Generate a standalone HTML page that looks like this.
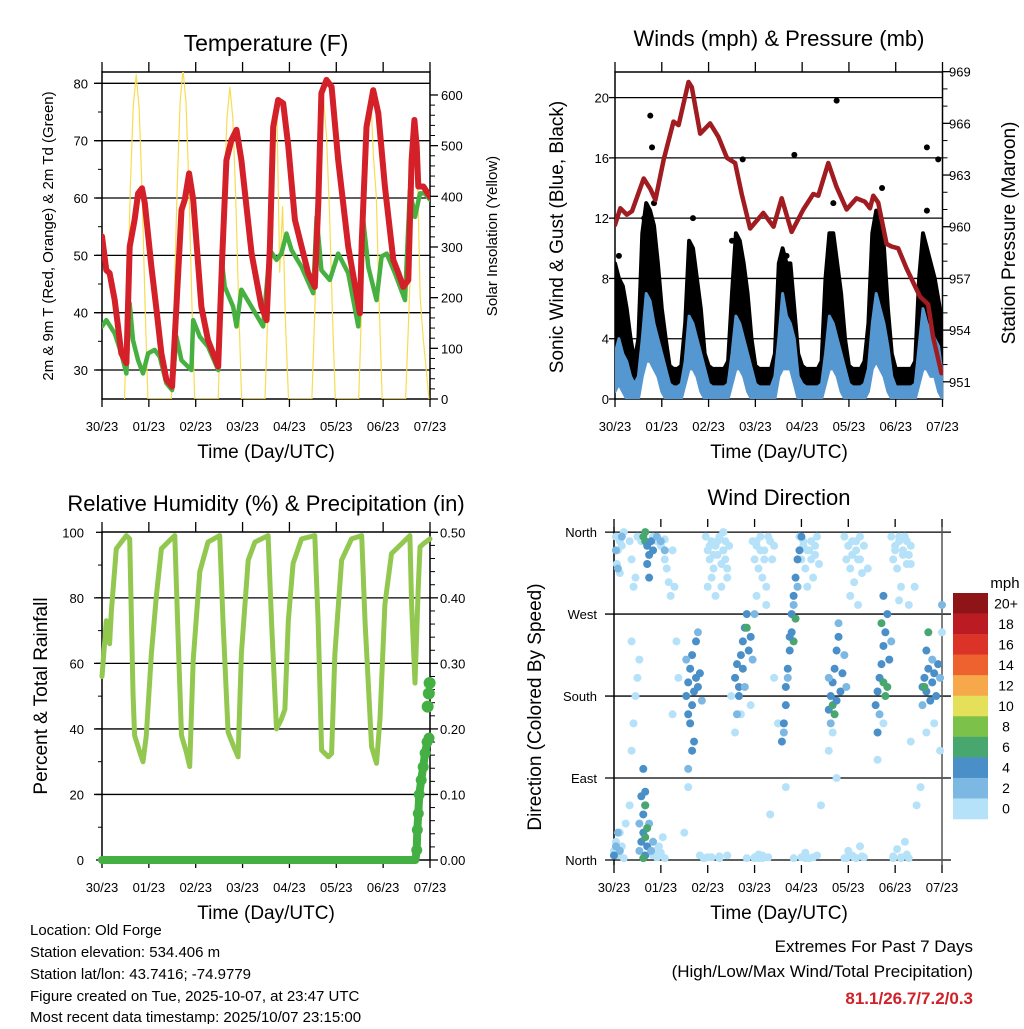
<!DOCTYPE html>
<html><head><meta charset="utf-8"><style>
html,body{margin:0;padding:0;background:#fff;}
svg text{font-family:"Liberation Sans",Arial,sans-serif;fill:#000;}
</style></head><body>
<svg id="fig" xmlns="http://www.w3.org/2000/svg" width="1024" height="1024" viewBox="0 0 1024 1024">
<rect x="0" y="0" width="1024" height="1024" fill="#fff"/>
<defs>
<clipPath id="c1"><rect x="102" y="72" width="328" height="327"/></clipPath>
<clipPath id="c2"><rect x="615" y="72" width="328" height="327"/></clipPath>
<clipPath id="c3"><rect x="90" y="520" width="352" height="352"/></clipPath>
<clipPath id="c4"><rect x="605" y="527" width="345" height="338"/></clipPath>
</defs>
<g id="layer"></g>
<text x="266" y="51" font-size="23" text-anchor="middle">Temperature (F)</text>
<text x="779" y="46" font-size="22" text-anchor="middle">Winds (mph) &amp; Pressure (mb)</text>
<text x="266" y="511" font-size="22" text-anchor="middle">Relative Humidity (%) &amp; Precipitation (in)</text>
<text x="779" y="505" font-size="22" text-anchor="middle">Wind Direction</text>
<text transform="translate(53,236) rotate(-90)" font-size="15" text-anchor="middle">2m &amp; 9m T (Red, Orange) &amp; 2m Td (Green)</text>
<text transform="translate(497,236) rotate(-90)" font-size="15" text-anchor="middle">Solar Insolation (Yellow)</text>
<text transform="translate(563,237) rotate(-90)" font-size="19" text-anchor="middle">Sonic Wind &amp; Gust (Blue, Black)</text>
<text transform="translate(1015,233) rotate(-90)" font-size="19" text-anchor="middle">Station Pressure (Maroon)</text>
<text transform="translate(47,696) rotate(-90)" font-size="19" text-anchor="middle">Percent &amp; Total Rainfall</text>
<text transform="translate(541,707) rotate(-90)" font-size="19" text-anchor="middle">Direction (Colored By Speed)</text>
<text x="266" y="458" font-size="19" text-anchor="middle">Time (Day/UTC)</text>
<text x="779" y="458" font-size="19" text-anchor="middle">Time (Day/UTC)</text>
<text x="266" y="919" font-size="19" text-anchor="middle">Time (Day/UTC)</text>
<text x="779" y="919" font-size="19" text-anchor="middle">Time (Day/UTC)</text>
<g font-size="15">
<text x="30" y="935">Location: Old Forge</text>
<text x="30" y="957">Station elevation: 534.406 m</text>
<text x="30" y="979">Station lat/lon: 43.7416; -74.9779</text>
<text x="30" y="1001">Figure created on Tue, 2025-10-07, at 23:47 UTC</text>
<text x="30" y="1022">Most recent data timestamp: 2025/10/07 23:15:00</text>
</g>
<g font-size="17" text-anchor="end">
<text x="973" y="952">Extremes For Past 7 Days</text>
<text x="973" y="977">(High/Low/Max Wind/Total Precipitation)</text>
<text x="973" y="1004" font-weight="bold" style="fill:#d02028">81.1/26.7/7.2/0.3</text>
</g>
<text x="1005" y="588" font-size="15" text-anchor="middle">mph</text>
</svg>
<script>
// ---------- data ----------
const dayLabels = ["30/23","01/23","02/23","03/23","04/23","05/23","06/23","07/23"];
const tempTicks = [30,40,50,60,70,80];
const solarTicks = [0,100,200,300,400,500,600];
const windTicks = [0,4,8,12,16,20];
const pressTicks = [951,954,957,960,963,966,969];
const rhTicks = [0,20,40,60,80,100];
const rainTicks = ["0.00","0.10","0.20","0.30","0.40","0.50"];
const dirLabels = ["North","East","South","West","North"];
const dirTicks = [0,90,180,270,360];

const tempHours = [0,2.2,3.9,6.5,8.2,9.9,12.5,14.2,16.7,18.5,20.5,21.9,25.3,27.9,30.4,33,35.9,38.1,40.7,42.4,44.6,46.7,50.9,54.3,59.5,61.5,63.7,66.3,68.9,71.4,76.6,81.7,84.3,86,87.7,90.2,92.8,95.4,98.8,105.6,109,110.8,112.4,115,117.6,121,126.1,132.1,133,135.5,138.9,141.5,144.9,149.2,151.8,154.3,156.9,158.6,160,161.2,162,164.6,168];
const tempVals = [53.3,47.4,46.9,42.2,37.6,32.9,31.2,51.5,56.2,60.8,61.7,59.1,48.0,40.5,32.9,28.3,27.1,41.0,57.9,59.7,64.3,59.7,41.0,35.2,30.6,49.2,66.6,70.1,71.9,66.6,50.3,41.0,38.7,51.5,72.4,77.1,76.5,69.0,56.2,46.9,44.5,59.1,78.3,80.6,79.4,66.6,51.5,39.9,52.1,72.4,78.8,74.8,62.0,49.2,46.9,44.5,45.7,66.6,73.6,69.0,62.0,62.0,60.2];
const dewHours = [0,2.2,6.5,9.9,12.5,14.2,15.9,18.5,21,23.6,27,29.6,33,35.9,38.1,40.7,45.8,46.7,50.1,54.3,59.5,61.5,62.9,67.2,68.9,71.4,76.6,82.5,86,89.4,91.9,94.5,97.1,102.2,108.2,109.9,112.4,116.7,121,126.1,131.3,133.8,136.4,140.6,143.2,145.8,150,155.2,157.7,160.3,162.9,165.4,168];
const dewVals = [37.6,38.7,36.4,32.9,29.4,41.6,35.2,31.7,29.4,32.9,33.5,32.3,27.7,26.5,35.8,31.7,30,38.7,35.8,34.1,30,48.6,44.5,41.0,37.6,44.0,41.0,37.6,50.9,49.2,50.3,53.8,50.9,48.0,43.4,56.7,47.4,45.7,50.3,46.9,37.6,56.2,48.0,42.2,49.8,50.3,46.9,42.2,61.4,56.7,60.8,60.8,59.7];
const solarHours = [11.5,13,14.5,16,17.5,19,20.5,22,23.5, 35.5,37,38.5,40,41.5,43,44.5,46,47.5, 59.5,61,62.5,64,65.5,67,68.5,70,71.5, 83.5,85,86.5,88,89.5,91,92.5,94,95.5, 107.5,109,110.5,112,113.5,115,116.5,118,119.5, 131.5,133,134.5,136,137.5,139,140.5,142,143.5, 155.5,157,158.5,160,161.5,163,164.5,166,167.5];
const solarVals = [0,190,415,575,640,575,415,190,0, 0,195,420,585,650,585,420,195,0, 0,185,400,555,615,555,400,185,0, 0,180,390,560,590,250,380,150,0, 0,175,380,530,590,520,370,170,0, 0,185,400,550,610,480,400,185,0, 0,150,320,520,460,200,120,60,0];

const windStepHours = 2;
const gustHi = [9,8,7.5,6,4,2.5,4,11,13,12.5,11.5,9,6,4,2.2,2,2,2.2,5,10.5,10,8,6,3,2.2,2,2,2,2,2.5,7,11,10.5,9,7,4,2.2,2,2,2,2,3,9,10,9,9,6,3,2.2,2,2,2,2,2.5,8,11,11,9,7,4,2.2,2,2,2,2.5,5,11,12.5,12,10,6,3,2,2,2,2,2,2.5,8,11,10,9,8,6.5,5];
const gustLo = [3,2.5,2,1.5,1,0.8,1.5,5,6,6,5,4,2.5,1.5,0.8,0.8,0.8,0.8,2.5,4.5,4.5,3.5,2.5,1.5,0.8,0.5,0.5,0.5,0.5,0.8,3,5,5,4,3,1.5,0.8,0.5,0.5,0.5,0.5,1,4,6,5,4.5,3,1,0.8,0.5,0.5,0.5,0.5,0.8,3,5,5,4,3,1.5,0.8,0.5,0.5,0.5,0.8,2,5,6,5.5,4.5,3,1,0.5,0.5,0.5,0.5,0.5,0.8,3,5,4.5,4,3.5,3,1.5];
const windHi = [3,4,3,2.5,1.5,1,1.5,4,7,6.5,5,4,3,2,1,0.8,0.8,1,2.5,5.5,5,4,3,2,1,0.8,0.8,0.8,0.8,1,3,5.5,5,4,3,2,1,0.8,0.8,0.8,0.8,1.5,4,7,5.5,5,4,1.5,1,0.8,0.8,0.8,0.8,1,3,5.5,5,4,3,2,1,0.8,0.8,0.8,1,2,5,7,6,5,3.5,1.5,0.8,0.8,0.8,0.8,0.8,1,3.5,6,5,4.5,4,3.5,1.5];
const windLo = [0.5,1,0.5,0,0,0,0,1.5,2.5,2.5,2,1.5,0.5,0,0,0,0,0,1,2,2,1.5,0.5,0,0,0,0,0,0,0,1,2,2,1.5,0.5,0,0,0,0,0,0,0,1.5,2,2,2,1,0,0,0,0,0,0,0,1,2,2,1.5,0.5,0,0,0,0,0,0,0.5,2,2.5,2,1.5,0.5,0,0,0,0,0,0,0,1,2,2,1.5,1.5,0.5,0];
const gustPeakHours = [18.1,19,113.7,92,65.5,160,165.8,2,15,20,60,88,40,112,137,160];
const gustPeakVals = [18.8,16.7,19.8,16.2,15.9,16.7,15.9,9.5,12,13,10.5,9.5,12,13,14,12.5];
const pressHours = [0,2.7,6.1,8.7,14.7,18.1,20.7,25,30,32.6,37.7,39.4,43.7,48.8,53.1,57.4,61.6,65,69.3,76.1,81.3,85.5,90.6,96.6,101.7,104.3,109.4,113.7,118.8,123.9,128.2,130.8,132.5,135,139.3,141.9,145.3,149.5,156.4,160.6,163.2,167.5];
const pressVals = [960.1,961.07,960.7,960.9,962.8,962.2,961.55,963.9,966.1,965.9,968.4,968.1,965.4,966.0,965.2,964.0,963.7,961.9,959.9,960.8,960.0,961.65,959.7,961.0,961.9,961.8,963.7,962.3,961.0,961.65,961.45,961.07,961.8,961.4,959.0,958.85,958.75,957.6,955.95,955.5,953.6,951.5];

const rhHours = [0,2.2,3.9,4.8,7.3,9.9,12.5,14.2,15.9,16.7,19.3,21,22.7,25.3,27.9,30.4,33.8,37.3,39,40.7,43.2,44.9,46.7,50.1,54.3,60.3,62,64.6,67.2,69.7,71.4,74.9,78.3,85.1,86.8,89.4,91.9,93.7,95.4,97.9,102.2,109,110.7,112.5,115.9,117.6,119.3,122.7,127.8,133,134.7,138.1,140.6,142.4,144.9,148.3,157.7,158.6,160.3,162,162.9,164.6,168];
const rhVals = [56,73,66,76,95,97,99,98,51,38,33,30,38,63,81,95,97,99,68,38,33,28.5,61,88,97,99,73,39,35,31.5,63,91.5,97,99,73,40,43,46,73,90.5,98,99,73,33.5,31.5,32.5,63,91.5,98,99,73,34.5,29.5,43,78,93.5,99,78,54,83.5,95.5,96.5,98];
const rainHours = [0,160.5,161.2,161.5,162,162.5,163.5,164.5,165.5,166.5,167.5];
const rainVals = [0,0,0.015,0.046,0.071,0.10,0.122,0.142,0.163,0.18,0.186];
const rainUpperHours = [166.8,167.4,167.8];
const rainUpperVals = [0.234,0.254,0.27];

const calmHours = [1,2,3,1.5,4,5,3,8,9,10,11,12,14,20,22,24,26,27,28,29,30,31,26,47,48,49,50,51,52,53,54,55,56,57,58,59,48,52,55,50,57,56,71,72,73,74,75,76,77,78,80,81,82,73,78,95,96,97,98,100,101,102,103,104,99,105,118,119,120,121,122,123,124,125,126,127,128,130,121,125,142,143,144,145,146,147,148,149,150,151,152,146,151,154,
0,1,2,3,4,5,6,8,9,10,11,12,9,13,20,21,22,23,24,25,26,30,32,33,36,38,44,46,50,54,58,60,62,65,68,70,72,74,76,79,80,82,84,88,92,96,98,100,104,106,110,112,114,118,120,122,124,126,128,135,138,143,145,147,149,150,152,155,157,160,164,167,168,
49,51,53,56,58,73,75,77,79,97,99,101,103,120,122,124,126,144,146,148,150,152,46,48,54,72,74,76,98,102,119,123,127,143,147,151];
const calmDeg = [355,340,350,325,345,360,315,350,330,300,310,355,350,355,350,345,330,320,305,290,340,300,352,355,340,330,350,320,345,335,355,325,340,350,310,345,300,290,300,310,330,360,350,330,345,320,355,310,340,300,350,330,345,290,280,355,330,345,320,340,350,310,335,355,300,325,355,330,345,320,350,305,340,330,355,315,345,320,290,280,355,330,345,320,350,300,340,355,325,335,345,285,280,300,
10,20,5,30,15,2,40,60,120,150,180,200,240,220,5,10,3,15,8,25,2,160,240,200,30,80,5,2,3,2,5,180,140,160,2,170,2,6,2,3,50,200,150,80,2,3,8,2,5,60,120,140,90,2,10,5,2,15,3,110,150,4,12,2,20,6,130,60,80,140,150,120,250,
345,335,350,340,320,350,340,330,355,350,340,330,345,345,335,350,330,340,355,335,350,325,2,3,4,3,2,5,2,3,2,3,4,2,3,2];
const dirHours = [1,2,3,1,2,4,0,13,14,15,15,16,14,16,17,18,15,16,13,19,20,15,16,17,16,15,16,17,18,17,19,20,22,24,26,18,16,37,38,39,40,41,42,38,40,42,43,44,39,41,43,37,45,40,38,62,63,64,65,66,67,68,66,69,70,67,64,68,71,63,72,86,87,88,88,89,90,91,91,92,93,94,95,96,89,92,94,87,93,92,90,110,111,112,113,114,115,116,117,118,112,113,110,115,114,119,111,134,135,136,137,138,139,140,137,138,139,141,140,136,142,135,138,158,159,160,161,162,163,164,165,166,167,160,161,159,158,163,168];
const dirDeg = [15,30,10,340,320,355,5,10,20,30,50,60,70,5,15,40,100,75,40,10,20,2,25,35,60,355,350,345,335,325,350,340,355,350,340,310,360,180,195,210,170,185,200,160,225,240,190,205,150,130,250,220,175,120,100,200,215,190,225,240,255,270,210,230,245,190,180,255,220,160,270,130,150,170,190,210,230,250,270,290,310,330,340,355,200,280,300,140,265,240,245,165,180,195,210,230,245,185,205,225,170,160,200,260,175,190,150,170,185,200,215,235,250,270,260,195,180,220,190,160,240,140,290,190,200,185,210,175,195,205,180,215,200,230,250,190,170,220,280];
const dirSpeed = [3,3,3,3,3,3,5,3,5,5,5,5,5,5,5,3,5,5,3,3,3,7,7,7,7,7,7,5,5,5,5,5,3,3,3,5,7,5,5,5,5,5,5,5,5,5,5,5,5,5,3,3,3,5,3,5,5,5,5,5,5,5,5,5,5,3,5,7,3,3,3,5,5,5,5,5,5,5,5,5,5,5,5,5,3,3,3,3,7,7,5,5,5,5,5,5,5,5,5,3,7,7,3,3,5,3,3,5,5,5,5,5,5,5,7,7,7,5,7,3,3,5,5,5,5,5,5,5,5,5,5,5,3,5,7,7,3,3,3];
const speedBins = ["20+","18","16","14","12","10","8","6","4","2","0"];
const speedColors = ["#8e1418","#bb1c24","#dc3328","#ee6230","#f6a84a","#e5e05a","#7cc24a","#48a76e","#4a8fc8","#7db8e3","#b5e2f8"];

// ---------- helpers ----------
const NS = "http://www.w3.org/2000/svg";
const layer = document.getElementById('layer');
function mk(tag, attrs, parent){ const e=document.createElementNS(NS,tag); for(const k in attrs) e.setAttribute(k,attrs[k]); (parent||layer).appendChild(e); return e; }
function grp(name, clip){ const g=mk('g',{});   if(clip) g.setAttribute('clip-path','url(#'+clip+')'); return g; }
const P1={x0:102,x1:430,y0:72,y1:399}, P2={x0:615,x1:942.5,y0:72,y1:399}, P3={x0:102,x1:430,y0:532,y1:860}, P4={x0:614,x1:942,y0:532,y1:860};
function xs(P,h){ return P.x0 + h/168*(P.x1-P.x0); }
const yT=t=>370-(t-30)*5.733, yS=v=>399-v*0.5067, yW=v=>399-v*15.07, yP=p=>381.8-(p-951)*17.23;
const yRH=r=>860-r*3.277, yRain=v=>860-v*655.4, yDir=d=>860-d*0.9108;
function pts(P,hs,vs,fy){ return hs.map((h,i)=>xs(P,h).toFixed(1)+','+fy(vs[i]).toFixed(1)).join(' '); }

function frame(P,name,grids,fy,gx0,gx1){
  const g=grp(name+'-axes');
  grids.forEach(v=>{ const y=fy(v); const l=mk('line',{x1:gx0,x2:gx1,y1:y,y2:y,stroke:'#000','stroke-width':1.3},g);   });
  mk('rect',{x:P.x0,y:P.y0,width:P.x1-P.x0,height:P.y1-P.y0,fill:'none',stroke:'#000','stroke-width':1.5},g);
  for(let d=0; d<=7; d++){ const x=xs(P,d*24);
    mk('line',{x1:x,x2:x,y1:P.y0,y2:P.y0-10,stroke:'#000','stroke-width':1.3},g);
    mk('line',{x1:x,x2:x,y1:P.y1,y2:P.y1+8,stroke:'#000','stroke-width':1.3},g);
    const t=mk('text',{x:x,y:P.y1+32,'font-size':13,'text-anchor':'middle'},g); t.textContent=dayLabels[d];
     
  }
  return g;
}
function leftLabels(g,P,vals,fy,labels,xr){ vals.forEach((v,i)=>{ const y=fy(v); mk('line',{x1:P.x0,x2:P.x0-6,y1:y,y2:y,stroke:'#000','stroke-width':1.3},g); const t=mk('text',{x:xr,y:y+5,'font-size':13,'text-anchor':'end'},g); t.textContent=labels?labels[i]:v;   }); }
function rightLabels(g,P,vals,fy,labels,xl){ vals.forEach((v,i)=>{ const y=fy(v); mk('line',{x1:P.x1,x2:P.x1+8,y1:y,y2:y,stroke:'#000','stroke-width':1.3},g); const t=mk('text',{x:xl,y:y+5,'font-size':13,'text-anchor':'start'},g); t.textContent=labels?labels[i]:v;   }); }

// ---------- Panel 1 ----------
(function(){
  const g=frame(P1,'temperature',tempTicks.concat([80]),yT,94,430);
  leftLabels(g,P1,tempTicks,yT,null,88);
  rightLabels(g,P1,solarTicks,yS,null,441);
  for(let v=20; v<620; v+=20){ if(v%100){ const y=yS(v); mk('line',{x1:P1.x1,x2:P1.x1+5,y1:y,y2:y,stroke:'#000','stroke-width':1},g);} }
  for(let t=35; t<=80; t+=10){ const y=yT(t); mk('line',{x1:P1.x0,x2:P1.x0-4,y1:y,y2:y,stroke:'#000','stroke-width':1},g); }
  const d=grp('temperature-data','c1');
  const s=mk('polyline',{points:pts(P1,solarHours,solarVals,yS),fill:'none',stroke:'#f8dc50','stroke-width':1.2,'stroke-linejoin':'round'},d);
   
  const dw=mk('polyline',{points:pts(P1,dewHours,dewVals,yT),fill:'none',stroke:'#46b040','stroke-width':4.5,'stroke-linejoin':'round','stroke-linecap':'round'},d);
   
  const tl=mk('polyline',{points:pts(P1,tempHours,tempVals,yT),fill:'none',stroke:'#d42028','stroke-width':6,'stroke-linejoin':'round','stroke-linecap':'round'},d);
   
})();

// ---------- Panel 2 ----------
(function(){
  const g=frame(P2,'winds',[4,8,12,16,20],yW,615,942);
  leftLabels(g,P2,windTicks,yW,null,609);
  rightLabels(g,P2,pressTicks,yP,null,949);
  for(let p=952; p<969; p+=1){ if((p-951)%3){ const y=yP(p); mk('line',{x1:P2.x1,x2:P2.x1+5,y1:y,y2:y,stroke:'#000','stroke-width':1},g);} }
  const d=grp('winds-data','c2');
  const n=Math.min(gustHi.length,gustLo.length);
  let top=[],bot=[];
  for(let i=0;i<n;i++){ const x=xs(P2,i*windStepHours); top.push(x.toFixed(1)+','+yW(gustHi[i]).toFixed(1)); bot.unshift(x.toFixed(1)+','+yW(gustLo[i]).toFixed(1)); }
  const gb=mk('polygon',{points:top.concat(bot).join(' '),fill:'#000',stroke:'#000','stroke-width':4,'stroke-linejoin':'round'},d);
   
  gustPeakHours.forEach((h,i)=>{ const c=mk('circle',{cx:xs(P2,h),cy:yW(gustPeakVals[i]),r:3,fill:'#000'},d);   });
  const m=Math.min(windHi.length,windLo.length); top=[];bot=[];
  for(let i=0;i<m;i++){ const x=xs(P2,i*windStepHours); top.push(x.toFixed(1)+','+yW(windHi[i]).toFixed(1)); bot.unshift(x.toFixed(1)+','+yW(windLo[i]).toFixed(1)); }
  const wb=mk('polygon',{points:top.concat(bot).join(' '),fill:'#5597d0',stroke:'#5597d0','stroke-width':3,'stroke-linejoin':'round'},d);
   
  const pl=mk('polyline',{points:pts(P2,pressHours,pressVals,yP),fill:'none',stroke:'#a01c20','stroke-width':4.5,'stroke-linejoin':'round','stroke-linecap':'round'},d);
   
})();

// ---------- Panel 3 ----------
(function(){
  const g=frame(P3,'humidity',[20,40,60,80],yRH,94,430);
  leftLabels(g,P3,rhTicks,yRH,null,84);
  rightLabels(g,P3,rainTicks.map(Number),yRain,rainTicks,440);
  for(let v=0.02; v<0.5; v+=0.02){ if(Math.round(v*100)%10){ const y=yRain(v); mk('line',{x1:P3.x1,x2:P3.x1+5,y1:y,y2:y,stroke:'#000','stroke-width':1},g);} }
  for(let r=10;r<100;r+=20){ const y=yRH(r); mk('line',{x1:P3.x0,x2:P3.x0-4,y1:y,y2:y,stroke:'#000','stroke-width':1},g); }
  const d=grp('humidity-data','c3');
  const rl=mk('polyline',{points:pts(P3,rhHours,rhVals,yRH),fill:'none',stroke:'#92c850','stroke-width':5,'stroke-linejoin':'round','stroke-linecap':'round'},d);
   
  const pl=mk('polyline',{points:pts(P3,rainHours,rainVals,yRain),fill:'none',stroke:'#44b044','stroke-width':8,'stroke-linejoin':'round','stroke-linecap':'round'},d);
   
  rainHours.forEach((h,i)=>{ if(rainVals[i]>0){ const c=mk('circle',{cx:xs(P3,h),cy:yRain(rainVals[i]),r:5.5,fill:'#44b044'},d);   } });
  rainUpperHours.forEach((h,i)=>{ const c=mk('circle',{cx:xs(P3,h),cy:yRain(rainUpperVals[i]),r:6,fill:'#44b044'},d);   });
})();

// ---------- Panel 4 ----------
(function(){
  const g=grp('direction-axes');
  dirTicks.forEach((v,i)=>{ const y=yDir(v); mk('line',{x1:605,x2:951,y1:y,y2:y,stroke:'#000','stroke-width':1.3},g);
    const t=mk('text',{x:597,y:y+5,'font-size':13,'text-anchor':'end'},g); t.textContent=dirLabels[i];   });
  mk('line',{x1:P4.x0,x2:P4.x0,y1:527,y2:865,stroke:'#000','stroke-width':1.5},g);
  mk('line',{x1:P4.x1,x2:P4.x1,y1:527,y2:865,stroke:'#555','stroke-width':1.5},g);
  for(let dd=0; dd<=7; dd++){ const x=xs(P4,dd*24); mk('line',{x1:x,x2:x,y1:527,y2:519,stroke:'#000','stroke-width':1.3},g); mk('line',{x1:x,x2:x,y1:865,y2:873,stroke:'#000','stroke-width':1.3},g);
    const t=mk('text',{x:x,y:892,'font-size':13,'text-anchor':'middle'},g); t.textContent=dayLabels[dd];   }
  const d=grp('direction-data','c4');
  calmHours.forEach((h,i)=>{ if(calmDeg[i]===undefined) return; const c=mk('circle',{cx:xs(P4,h),cy:yDir(calmDeg[i]),r:4,fill:speedColors[10]},d);
      });
  dirHours.forEach((h,i)=>{ const idx=Math.max(0,10-Math.min(10,Math.floor(dirSpeed[i]/2)));
    const c=mk('circle',{cx:xs(P4,h),cy:yDir(dirDeg[i]),r:4,fill:speedColors[idx]},d);
      });
  const cb=grp('speed-colorbar');
  const bh=226/speedBins.length;
  speedBins.forEach((lab,i)=>{ const y=593+i*bh; const r=mk('rect',{x:953,y:y,width:35,height:bh+0.3,fill:speedColors[i]},cb);
     
    const t=mk('text',{x:1006,y:y+bh/2+5,'font-size':14,'text-anchor':'middle'},cb); t.textContent=lab;   });
})();
</script>
</body></html>
